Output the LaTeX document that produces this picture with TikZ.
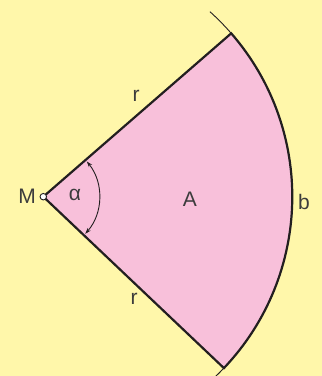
\documentclass[tikz,border=0pt]{standalone}
\usepackage{fontspec}
\setmainfont{Liberation Sans}
\usepackage{xcolor,tikz}
\usetikzlibrary{calc,arrows.meta}
\definecolor{secYellowFill}{HTML}{FFF7AA}
\definecolor{secPinkFill}{HTML}{F8C0DA}
\definecolor{secDarkLine}{HTML}{231F20}
\definecolor{secGreyText}{HTML}{3C3C3C}
\tikzset{
  sec label/.style={
    font=\fontsize{21}{24}\selectfont, text=secGreyText,
    inner sep=0pt, anchor=center,
  },
  sec edge/.style={
    line width=2.2pt, draw=secDarkLine, fill=secPinkFill, line join=miter,
  },
  sec circle/.style={
    line width=0.9pt, draw=secDarkLine,
  },
  sec angle/.style={
    {Stealth[length=6pt,width=4pt]}-{Stealth[length=6pt,width=4pt]},
    line width=0.9pt, color=secDarkLine,
  },
  sec centre/.style={
    circle, fill=white, draw=secDarkLine, line width=0.9pt,
    minimum size=6.5pt, inner sep=0pt,
  },
}

\begin{document}
\begin{tikzpicture}[x=1pt,y=1pt]

\def\rSec{249}
\def\aTop{41}
\def\aBot{-43.5}
\def\rAlpha{56}

% --- FRAME ---
\fill[secYellowFill] (0,0) rectangle (322,376);
\useasboundingbox (0,0) rectangle (322,376);
\clip (0,0) rectangle (322,376);

% --- POINTS ---
\coordinate (M) at (43.3,179.3);
\coordinate (top) at ($(M)+(\aTop:\rSec)$);
\coordinate (bot) at ($(M)+(\aBot:\rSec)$);
\coordinate (arcTop) at ($(M)+(48:\rSec)$);
\coordinate (alphaTop) at ($(M)+(39:\rAlpha)$);

% --- SECTOR ---
\draw[sec circle] (arcTop) arc[start angle=48, end angle=-50, radius=\rSec];
\draw[sec edge] (M) -- (top) arc[start angle=\aTop, end angle=\aBot, radius=\rSec] -- cycle;

% --- ANGLE ---
\draw[sec angle] (alphaTop) arc[start angle=39, end angle=-41.5, radius=\rAlpha];

% --- CENTRE + LABELS ---
\node[sec centre] (Mdot) at (M) {};
\node[sec label] (labM) at (27,180) {M};
\node[sec label] (labAlpha) at (75,181) {α};
\node[sec label] (labA) at (190,177) {A};
\node[sec label] (labB) at (304,174) {b};
\node[sec label] (labRtop) at (136,280) {r};
\node[sec label] (labRbot) at (134,77) {r};

\end{tikzpicture}
\end{document}
